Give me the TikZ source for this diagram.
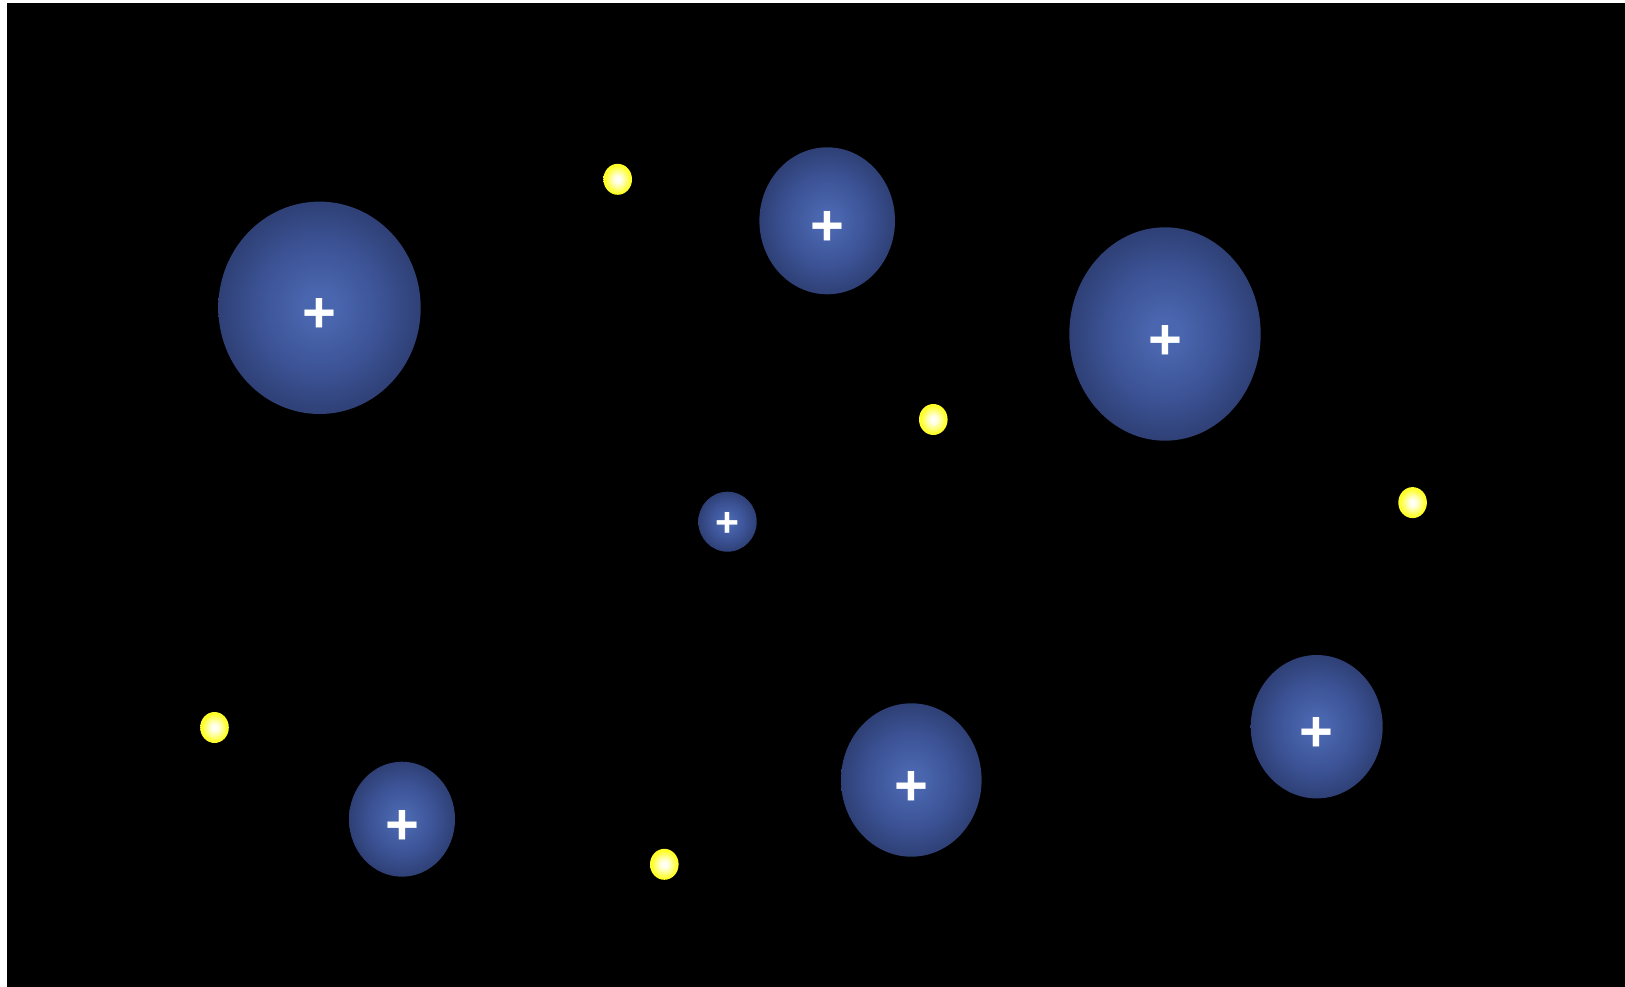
\documentclass[tikz,border=0pt]{standalone}
\usepackage{fontspec}
\newfontfamily\plusfont{Liberation Sans}[BoldFont=* Bold]
\usetikzlibrary{shapes.geometric}
\definecolor{blobin}{HTML}{4A66AE}
\definecolor{blobmid}{HTML}{3C5396}
\definecolor{blobrim}{HTML}{2D3E72}
\definecolor{blobout}{HTML}{222D52}
\definecolor{starin}{HTML}{FFFFF2}
\definecolor{starmid}{HTML}{FFFF2A}
\definecolor{starout}{HTML}{E2D200}
% the edge of the path sits at about 35bp of the shading
\pgfdeclareradialshading{blobglow}{\pgfpoint{0bp}{0bp}}{color(0bp)=(blobin); color(4bp)=(blobin); color(15bp)=(blobmid); color(26bp)=(blobrim); color(35bp)=(blobout); color(50bp)=(blobout)}
\pgfdeclareradialshading{starglow}{\pgfpoint{0bp}{0bp}}{color(0bp)=(starin); color(5bp)=(starin); color(22bp)=(starmid); color(31bp)=(starmid); color(35bp)=(starout); color(50bp)=(starout)}
\tikzset{
    blob/.style={ellipse, shading=blobglow, inner sep=0pt, outer sep=0pt},
    star/.style={ellipse, shading=starglow, inner sep=0pt, outer sep=0pt,
        minimum width=28.6pt, minimum height=31pt},
    plus/.style={text=white, inner sep=0pt, font=\plusfont\bfseries\fontsize{58}{58}\selectfont}
}
\begin{document}
\begin{tikzpicture}[x=1pt,y=-1pt]
        \useasboundingbox (0,0) rectangle (1625,987);
        % sky
            \fill[black] (7,3) rectangle (1625,987);
        % blobs
            \foreach \n/\x/\y/\w/\h/\s in {1/319.5/307.8/202.4/212.4/8,2/827.2/220.8/135.6/147/8,3/1165/334/191.4/213.4/8,5/1316.7/726.7/132/143.4/8,6/911.3/780/140.6/153.4/8,7/402/819.2/106/115/8}{
                \node[blob, minimum width=\w pt, minimum height=\h pt] (b\n) at (\x,\y) {};
                \node[plus] (p\n) at ([yshift=-\s pt]b\n.center) {+};
            }
            \node[blob, minimum width=58.4pt, minimum height=60pt] (b4) at (727.5,521.7) {};
            \node[plus, font=\plusfont\bfseries\fontsize{41}{41}\selectfont] (p4) at ([yshift=-3pt]b4.center) {+};
        % stars
            \foreach \n/\x/\y in {1/617.7/179.3,2/933.3/419.5,3/1412.6/502.6,4/214.5/727.5,5/664.3/864.3}{
                \node[star] (s\n) at (\x,\y) {};
            }
\end{tikzpicture}
\end{document}
